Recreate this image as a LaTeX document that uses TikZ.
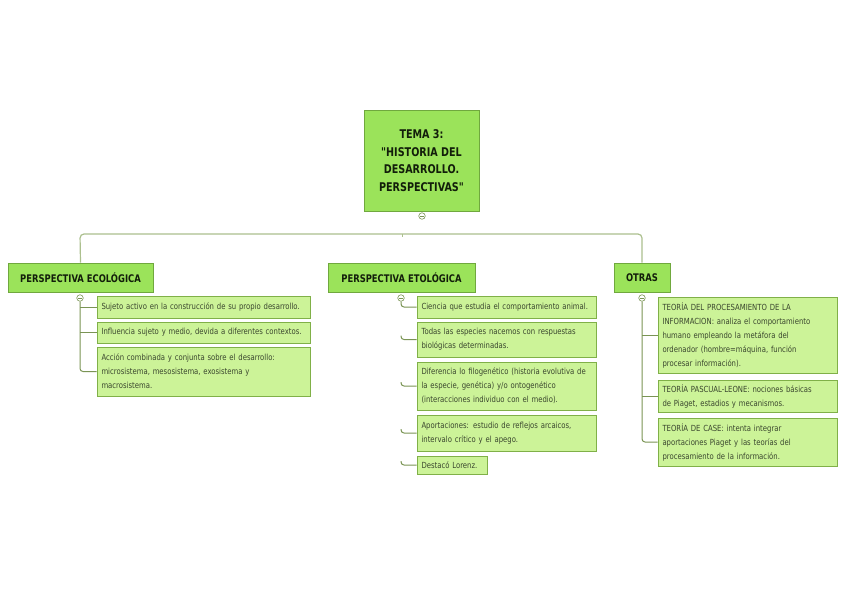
\documentclass[tikz,border=0pt]{standalone}
\usepackage{fontspec}
\newfontfamily\hdfont[FakeStretch=0.8]{DejaVu Sans}
\newfontfamily\chfont[FakeStretch=0.82]{DejaVu Sans}
\definecolor{lime}{RGB}{155,227,90}
\definecolor{limeborder}{RGB}{112,168,62}
\definecolor{leaf}{RGB}{204,243,152}
\definecolor{leafborder}{RGB}{128,176,72}
\definecolor{twig}{RGB}{122,148,84}
\definecolor{trunk}{RGB}{172,192,142}
\definecolor{hdtext}{RGB}{18,30,10}
\definecolor{chtext}{RGB}{58,70,46}
\tikzset{
  topbox/.style={draw=limeborder, fill=lime, line width=0.8pt, inner sep=0pt,
    align=center, text=hdtext, font=\hdfont\bfseries\fontsize{12}{17.5}\selectfont},
  headbox/.style={draw=limeborder, fill=lime, line width=0.8pt, inner sep=0pt,
    align=center, text=hdtext, minimum height=29pt, font=\hdfont\bfseries\fontsize{10.5}{12}\selectfont},
  leafbox/.style={draw=leafborder, fill=leaf, line width=0.7pt, inner xsep=4.5pt, inner ysep=0pt,
    align=left, text=chtext, font=\chfont\fontsize{8.4}{14}\selectfont},
  twigline/.style={draw=twig, line width=1pt, rounded corners=3pt},
  trunkline/.style={draw=trunk, line width=1.2pt, rounded corners=4pt},
  toggle/.style={circle, draw=twig, fill=white, line width=0.6pt, minimum size=6.5pt, inner sep=0pt,
    path picture={\draw[twig, line width=0.5pt] ([xshift=-2pt]path picture bounding box.center) -- ([xshift=2pt]path picture bounding box.center);}}
}
\newcommand{\leaf}[6]{% name, cx, cy, w, h, text
  \node[leafbox, minimum width=#4pt, minimum height=#5pt, text width=#4pt-9pt] (#1) at (#2,#3) {\hyphenpenalty=10000 \hbadness=10000 \hfuzz=20pt #6};}
\begin{document}
\begin{tikzpicture}[x=1pt, y=-1pt]
\useasboundingbox[fill=white] (0,0) rectangle (848,599);

% top node
\node[topbox, minimum width=115pt, minimum height=101pt] (top) at (421.5,160.5)
  {TEMA 3:\\"HISTORIA DEL\\DESARROLLO.\\PERSPECTIVAS"};
\node[toggle] (toptg) at (422,216) {};

% branch headers
\node[headbox, minimum width=145pt] (eco) at (80.5,277.5) {PERSPECTIVA ECOLÓGICA};
\node[headbox, minimum width=147pt] (eto) at (401.5,277.5) {PERSPECTIVA ETOLÓGICA};
\node[headbox, minimum width=56pt] (otr) at (642,277.5) {OTRAS};

% main trunk
\coordinate (tick) at (402,234);
\draw[trunkline] (eco.north) -- (80,234) -- (642,234) -- (otr.north);
\draw[draw=trunk, line width=0.7pt] (tick) -- ++(0,3);

% toggles under headers
\node[toggle] (ecotg) at (80,298) {};
\node[toggle] (etotg) at (401,298) {};
\node[toggle] (otrtg) at (642,298) {};

% ecological children
\leaf{e1}{203.5}{307}{213}{22}{Sujeto activo en la construcción de su propio desarrollo.}
\leaf{e2}{203.5}{332.5}{213}{21}{Influencia sujeto y medio, devida a diferentes contextos.}
\leaf{e3}{203.5}{371.5}{213}{49}{Acción combinada y conjunta sobre el desarrollo:\\microsistema, mesosistema, exosistema y\\macrosistema.}

\draw[twigline] (ecotg.south) |- (e3.west);
\draw[twigline] (80,307) -- (e1.west);
\draw[twigline] (80,332.5) -- (e2.west);

% ethological children
\leaf{t1}{506.5}{307}{179}{22}{Ciencia que estudia el comportamiento animal.}
\leaf{t2}{506.5}{339.5}{179}{35}{Todas las especies nacemos con respuestas\\biológicas determinadas.}
\leaf{t3}{506.5}{386}{179}{48}{Diferencia lo filogenético (historia evolutiva de\\la especie, genética) y/o ontogenético\\(interacciones individuo con el medio).}
\leaf{t4}{506.5}{433}{179}{36}{Aportaciones: estudio de reflejos arcaicos,\\intervalo crítico y el apego.}
\leaf{t5}{452}{465}{70}{18}{Destacó Lorenz.}

\draw[twigline] (etotg.south) |- (t1.west);
\coordinate (h2) at (401,335.5);
\coordinate (h3) at (401,382);
\coordinate (h4) at (401,429);
\coordinate (h5) at (401,461);
\draw[twigline] (h2) |- (t2.west);
\draw[twigline] (h3) |- (t3.west);
\draw[twigline] (h4) |- (t4.west);
\draw[twigline] (h5) |- (t5.west);

% other children
\leaf{o1}{747.5}{335}{179}{76}{TEORÍA DEL PROCESAMIENTO DE LA\\INFORMACION: analiza el comportamiento\\humano empleando la metáfora del\\ordenador (hombre=máquina, función\\procesar información).}
\leaf{o2}{747.5}{396}{179}{32}{TEORÍA PASCUAL-LEONE: nociones básicas\\de Piaget, estadios y mecanismos.}
\leaf{o3}{747.5}{442}{179}{48}{TEORÍA DE CASE: intenta integrar\\aportaciones Piaget y las teorías del\\procesamiento de la información.}

\draw[twigline] (otrtg.south) |- (o3.west);
\draw[twigline] (642,335) -- (o1.west);
\draw[twigline] (642,396) -- (o2.west);
\end{tikzpicture}
\end{document}
